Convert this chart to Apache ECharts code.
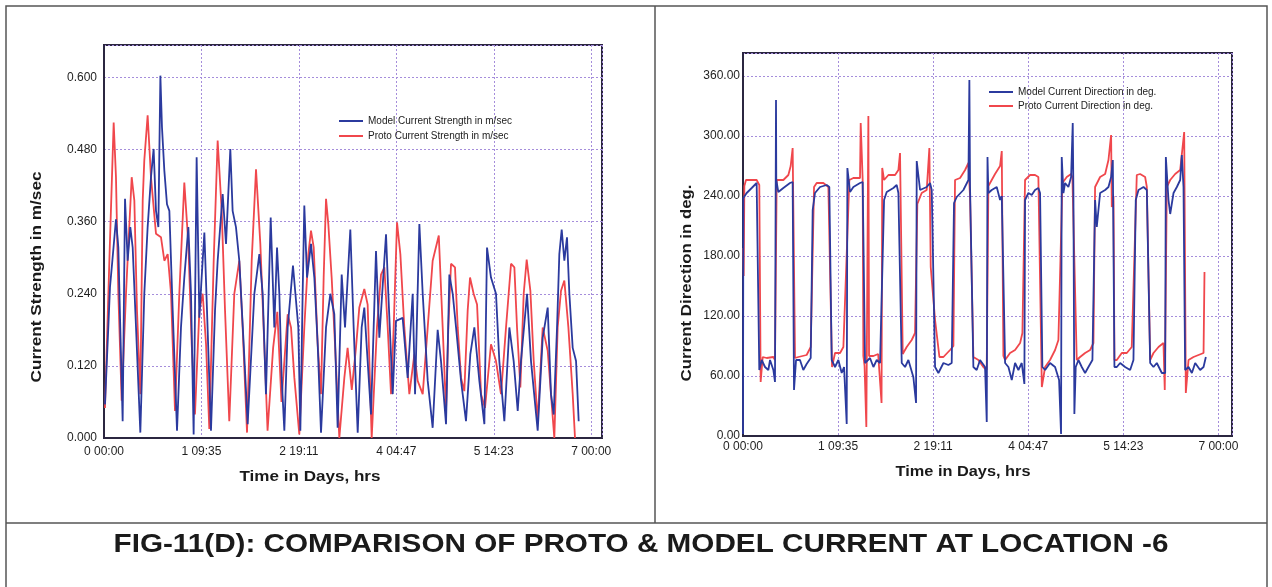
<!DOCTYPE html>
<html><head><meta charset="utf-8">
<script src="https://cdn.jsdelivr.net/npm/echarts@6/dist/echarts.min.js"></script>
<style>html,body{margin:0;padding:0;background:#fff}#c{width:1272px;height:587px}</style>
</head><body><div id="c"></div>
<script>
// ---------- DATA (time in days, value) ----------
const xTickLabels = ['0 00:00', '1 09:35', '2 19:11', '4 04:47', '5 14:23', '7 00:00'];
const strengthTickLabels = ['0.000', '0.120', '0.240', '0.360', '0.480', '0.600'];
const directionTickLabels = ['0.00', '60.00', '120.00', '180.00', '240.00', '300.00', '360.00'];

const seriesNames = {
  modelStrength: 'Model Current Strength in m/sec',
  protoStrength: 'Proto Current Strength in m/sec',
  modelDirection: 'Model Current Direction in deg.',
  protoDirection: 'Proto Current Direction in deg.'
};

const protoStrength = [[0.014,0.05],[0.077,0.295],[0.139,0.525],[0.172,0.434],[0.206,0.24],[0.254,0.062],[0.316,0.24],[0.398,0.434],[0.436,0.395],[0.474,0.212],[0.522,0.073],[0.556,0.395],[0.579,0.462],[0.627,0.537],[0.675,0.434],[0.747,0.34],[0.819,0.334],[0.867,0.295],[0.915,0.306],[0.963,0.24],[1.02,0.045],[1.082,0.24],[1.154,0.425],[1.212,0.323],[1.26,0.156],[1.307,0.039],[1.37,0.212],[1.418,0.24],[1.466,0.156],[1.513,0.015],[1.576,0.295],[1.633,0.495],[1.691,0.378],[1.739,0.212],[1.80,0.028],[1.872,0.24],[1.944,0.295],[1.992,0.184],[2.055,0.009],[2.122,0.295],[2.184,0.447],[2.246,0.323],[2.303,0.156],[2.35,0.012],[2.43,0.15],[2.49,0.21],[2.55,0.06],[2.639,0.206],[2.687,0.184],[2.735,0.1],[2.806,0.006],[2.878,0.184],[2.936,0.306],[2.974,0.345],[3.013,0.317],[3.07,0.156],[3.118,0.073],[3.156,0.267],[3.19,0.398],[3.223,0.356],[3.271,0.267],[3.319,0.156],[3.381,0.0],[3.453,0.1],[3.5,0.15],[3.56,0.08],[3.62,0.15],[3.668,0.217],[3.74,0.248],[3.788,0.222],[3.827,0.073],[3.846,0.0],[3.922,0.184],[3.98,0.272],[4.028,0.284],[4.076,0.184],[4.124,0.073],[4.162,0.184],[4.21,0.359],[4.258,0.306],[4.315,0.184],[4.387,0.073],[4.459,0.139],[4.507,0.095],[4.579,0.073],[4.651,0.184],[4.722,0.295],[4.81,0.337],[4.866,0.184],[4.914,0.045],[4.947,0.184],[4.986,0.29],[5.043,0.284],[5.082,0.184],[5.13,0.1],[5.177,0.078],[5.225,0.212],[5.259,0.267],[5.311,0.24],[5.36,0.222],[5.417,0.073],[5.474,0.05],[5.56,0.156],[5.632,0.128],[5.704,0.073],[5.776,0.184],[5.848,0.29],[5.896,0.284],[5.934,0.184],[5.982,0.084],[6.03,0.24],[6.073,0.297],[6.126,0.245],[6.174,0.128],[6.231,0.028],[6.303,0.184],[6.375,0.145],[6.422,0.073],[6.47,0.0],[6.518,0.184],[6.566,0.245],[6.614,0.262],[6.672,0.184],[6.734,0.073],[6.767,0.0]];

const modelStrength = [[0.014,0.056],[0.062,0.184],[0.086,0.251],[0.12,0.295],[0.172,0.364],[0.206,0.317],[0.234,0.184],[0.268,0.028],[0.302,0.398],[0.34,0.295],[0.378,0.351],[0.412,0.317],[0.46,0.184],[0.522,0.009],[0.579,0.24],[0.627,0.351],[0.675,0.434],[0.713,0.481],[0.747,0.378],[0.781,0.351],[0.81,0.603],[0.833,0.517],[0.867,0.445],[0.905,0.389],[0.939,0.378],[0.987,0.212],[1.049,0.012],[1.106,0.184],[1.154,0.267],[1.212,0.351],[1.25,0.24],[1.288,0.006],[1.331,0.467],[1.37,0.2],[1.403,0.267],[1.442,0.342],[1.48,0.212],[1.537,0.012],[1.595,0.212],[1.633,0.295],[1.705,0.406],[1.753,0.323],[1.815,0.481],[1.848,0.378],[1.896,0.351],[1.944,0.295],[2.007,0.156],[2.064,0.023],[2.16,0.24],[2.232,0.306],[2.28,0.24],[2.327,0.073],[2.395,0.367],[2.447,0.184],[2.486,0.317],[2.519,0.24],[2.553,0.1],[2.591,0.012],[2.639,0.184],[2.672,0.228],[2.715,0.287],[2.759,0.228],[2.792,0.184],[2.821,0.012],[2.854,0.24],[2.878,0.387],[2.917,0.267],[2.974,0.323],[3.022,0.267],[3.07,0.156],[3.118,0.009],[3.19,0.184],[3.252,0.24],[3.309,0.206],[3.357,0.017],[3.415,0.272],[3.463,0.184],[3.539,0.347],[3.587,0.184],[3.645,0.009],[3.702,0.184],[3.74,0.217],[3.788,0.128],[3.836,0.039],[3.908,0.311],[3.956,0.167],[4.052,0.339],[4.085,0.24],[4.148,0.073],[4.195,0.195],[4.291,0.2],[4.363,0.1],[4.435,0.24],[4.469,0.073],[4.531,0.356],[4.579,0.24],[4.651,0.095],[4.722,0.017],[4.794,0.18],[4.842,0.128],[4.914,0.023],[4.962,0.272],[5.01,0.24],[5.058,0.184],[5.13,0.095],[5.201,0.028],[5.263,0.139],[5.321,0.184],[5.393,0.095],[5.465,0.023],[5.503,0.317],[5.56,0.267],[5.632,0.24],[5.68,0.128],[5.752,0.028],[5.824,0.184],[5.886,0.128],[5.944,0.045],[5.991,0.128],[6.078,0.24],[6.135,0.128],[6.231,0.012],[6.303,0.167],[6.375,0.217],[6.422,0.073],[6.461,0.039],[6.509,0.184],[6.542,0.306],[6.576,0.347],[6.614,0.295],[6.652,0.334],[6.686,0.24],[6.734,0.15],[6.782,0.128],[6.82,0.028]];

const protoDirection = [[0.0,188],[0.01,160],[0.02,250],[0.044,256],[0.128,256],[0.201,256],[0.24,251],[0.26,54],[0.29,79],[0.349,78],[0.447,79],[0.471,76],[0.496,256],[0.594,256],[0.668,261],[0.702,270],[0.731,288],[0.766,78],[0.815,79],[0.937,81],[0.997,89],[1.046,249],[1.085,253],[1.183,253],[1.257,249],[1.311,69],[1.355,83],[1.429,83],[1.478,89],[1.566,256],[1.625,258],[1.723,258],[1.733,313],[1.762,256],[1.772,80],[1.79,70],[1.816,9],[1.846,320],[1.856,80],[1.92,80],[1.99,82],[2.04,33],[2.05,268],[2.077,256],[2.141,261],[2.239,261],[2.288,266],[2.312,283],[2.352,82],[2.41,89],[2.484,96],[2.533,103],[2.567,232],[2.631,243],[2.705,246],[2.744,288],[2.764,169],[2.828,116],[2.892,79],[2.951,79],[3.049,86],[3.098,90],[3.122,256],[3.196,258],[3.27,266],[3.319,273],[3.343,239],[3.392,79],[3.466,76],[3.539,69],[3.588,66],[3.613,250],[3.711,262],[3.785,270],[3.81,285],[3.834,80],[3.859,76],[3.932,83],[4.006,86],[4.08,93],[4.114,103],[4.153,256],[4.227,261],[4.3,261],[4.349,259],[4.4,49],[4.448,69],[4.521,76],[4.595,86],[4.644,96],[4.703,253],[4.767,259],[4.831,262],[4.85,259],[4.914,76],[4.963,79],[5.037,83],[5.111,86],[5.16,93],[5.184,249],[5.258,259],[5.332,262],[5.381,276],[5.42,301],[5.43,229],[5.455,240],[5.469,76],[5.504,76],[5.577,83],[5.651,83],[5.724,89],[5.798,261],[5.847,262],[5.921,259],[5.946,249],[5.995,76],[6.044,83],[6.118,89],[6.191,93],[6.21,46],[6.24,249],[6.29,256],[6.363,262],[6.437,266],[6.496,304],[6.52,43],[6.56,76],[6.633,79],[6.707,81],[6.781,83],[6.795,164]];

const modelDirection = [[0.0,2],[0.005,238],[0.015,239],[0.054,243],[0.128,248],[0.201,253],[0.226,251],[0.24,66],[0.275,76],[0.324,69],[0.373,66],[0.398,76],[0.447,66],[0.471,54],[0.486,336],[0.49,256],[0.52,244],[0.594,248],[0.692,253],[0.731,254],[0.751,46],[0.781,76],[0.839,76],[0.888,66],[0.937,72],[0.997,78],[1.026,226],[1.06,243],[1.134,249],[1.232,251],[1.271,249],[1.306,76],[1.355,69],[1.404,76],[1.453,63],[1.488,69],[1.527,12],[1.537,268],[1.576,244],[1.625,249],[1.723,253],[1.762,254],[1.797,73],[1.87,78],[1.92,69],[1.969,76],[2.018,73],[2.077,236],[2.116,244],[2.214,248],[2.263,251],[2.288,243],[2.337,73],[2.386,69],[2.435,76],[2.508,59],[2.548,33],[2.558,275],[2.607,246],[2.705,249],[2.754,253],[2.779,246],[2.828,69],[2.877,63],[2.951,73],[3.024,71],[3.073,73],[3.107,233],[3.147,239],[3.245,246],[3.319,256],[3.333,356],[3.343,249],[3.392,69],[3.441,66],[3.49,76],[3.564,69],[3.589,14],[3.6,279],[3.613,243],[3.662,246],[3.736,249],[3.785,236],[3.81,240],[3.859,73],[3.908,69],[3.957,56],[4.006,73],[4.055,66],[4.104,73],[4.143,52],[4.153,236],[4.202,243],[4.251,241],[4.3,246],[4.349,248],[4.374,243],[4.408,69],[4.448,66],[4.521,73],[4.595,69],[4.654,56],[4.683,2],[4.693,279],[4.718,243],[4.742,253],[4.791,249],[4.831,259],[4.855,313],[4.865,243],[4.879,22],[4.899,69],[4.939,76],[4.988,69],[5.037,63],[5.086,69],[5.145,76],[5.184,236],[5.209,209],[5.258,243],[5.332,246],[5.381,249],[5.42,259],[5.445,276],[5.469,69],[5.504,69],[5.553,73],[5.626,69],[5.7,66],[5.749,76],[5.783,236],[5.823,246],[5.897,249],[5.946,246],[5.995,73],[6.044,69],[6.093,73],[6.167,63],[6.216,63],[6.226,279],[6.265,236],[6.29,222],[6.339,243],[6.388,249],[6.437,256],[6.461,281],[6.486,249],[6.51,66],[6.56,69],[6.609,63],[6.658,73],[6.731,66],[6.781,69],[6.815,79]];

// ---------- STYLE ----------
const FONT = 'Liberation Sans, Arial, sans-serif';
const BLUE = '#2b3a9e', RED = '#f0474c';
const FRAME = '#2b2640', GRID = '#a58ddb';

function labelFrom(arr, step) {
  return function (v) {
    const i = Math.round(v / step);
    if (Math.abs(v - i * step) > 1e-6 * Math.max(1, step) || i < 0 || i >= arr.length) return '';
    return arr[i];
  };
}
function fitScale(text, font, target) {
  const ctx = document.createElement('canvas').getContext('2d');
  ctx.font = font;
  return target / ctx.measureText(text).width;
}
function xAxisCfg(gi, max, margin) {
  return {
    gridIndex: gi, type: 'value', min: 0, max: max, interval: 1.4,
    axisLine: { show: true, onZero: false, lineStyle: { color: FRAME, width: 2 } },
    axisTick: { show: false },
    splitLine: { show: true, lineStyle: { color: GRID, type: [2, 2], width: 1 } },
    axisLabel: { formatter: labelFrom(xTickLabels, 1.4), margin: margin, fontSize: 12, color: '#1e1e1e', fontFamily: FONT, showMaxLabel: false }
  };
}
function yAxisCfg(gi, max, step, labels, margin) {
  return {
    gridIndex: gi, type: 'value', min: 0, max: max, interval: step,
    axisLine: { show: true, lineStyle: { color: FRAME, width: 2 } },
    axisTick: { show: false },
    splitLine: { show: true, lineStyle: { color: GRID, type: [2, 2], width: 1 } },
    axisLabel: { formatter: labelFrom(labels, step), margin: margin, fontSize: 12, color: '#1e1e1e', fontFamily: FONT, showMaxLabel: false }
  };
}
function lineSeries(name, data, color, gi) {
  return {
    name: name, type: 'line', data: data, xAxisIndex: gi, yAxisIndex: gi,
    showSymbol: false, symbol: 'none', smooth: false, animation: false,
    lineStyle: { color: color, width: 1.8 }, itemStyle: { color: color }
  };
}
function txt(text, font, x, y, target, rot) {
  return {
    type: 'text', x: x, y: y, rotation: rot || 0, scaleX: fitScale(text, font, target), silent: true,
    style: { text: text, font: font, fill: '#1a1a1a', textAlign: 'center', textVerticalAlign: 'middle', align: 'center', verticalAlign: 'middle' }
  };
}

const chart = echarts.init(document.getElementById('c'), null, { renderer: 'canvas' });
const BOLD15 = 'bold 15px Liberation Sans';
const option = {
  backgroundColor: '#ffffff',
  animation: false,
  textStyle: { fontFamily: FONT },
  grid: [
    { left: 104, top: 45, width: 498, height: 393, show: true, borderColor: FRAME, borderWidth: 2, backgroundColor: 'transparent' },
    { left: 743, top: 53, width: 489, height: 383, show: true, borderColor: FRAME, borderWidth: 2, backgroundColor: 'transparent' }
  ],
  xAxis: [xAxisCfg(0, 7.155, 8), xAxisCfg(1, 7.2, 5)],
  yAxis: [yAxisCfg(0, 0.654, 0.12, strengthTickLabels, 7), yAxisCfg(1, 383, 60, directionTickLabels, 3)],
  legend: [
    { data: [seriesNames.modelStrength, seriesNames.protoStrength], orient: 'vertical', left: 334, top: 110,
      itemWidth: 24, itemHeight: 2, itemGap: 3, icon: 'rect', selectedMode: false,
      textStyle: { fontSize: 10, color: '#222', fontFamily: FONT, lineHeight: 12 } },
    { data: [seriesNames.modelDirection, seriesNames.protoDirection], orient: 'vertical', left: 984, top: 81,
      itemWidth: 24, itemHeight: 2, itemGap: 2, icon: 'rect', selectedMode: false,
      textStyle: { fontSize: 10, color: '#222', fontFamily: FONT, lineHeight: 12 } }
  ],
  series: [
    lineSeries(seriesNames.protoStrength, protoStrength, RED, 0),
    lineSeries(seriesNames.modelStrength, modelStrength, BLUE, 0),
    lineSeries(seriesNames.protoDirection, protoDirection, RED, 1),
    lineSeries(seriesNames.modelDirection, modelDirection, BLUE, 1)
  ],
  graphic: [
    { type: 'rect', silent: true, shape: { x: 6, y: 6, width: 1261, height: 620 }, style: { fill: 'none', stroke: '#555', lineWidth: 1.5 } },
    { type: 'line', silent: true, shape: { x1: 655, y1: 6, x2: 655, y2: 523 }, style: { stroke: '#555', lineWidth: 1.5 } },
    { type: 'line', silent: true, shape: { x1: 6, y1: 523, x2: 1267, y2: 523 }, style: { stroke: '#555', lineWidth: 1.5 } },
    txt('Time in Days, hrs', BOLD15, 310, 477, 141),
    txt('Time in Days, hrs', BOLD15, 963, 472, 135),
    txt('Current Strength in m/sec', BOLD15, 37, 277, 211, Math.PI / 2),
    txt('Current Direction in deg.', BOLD15, 687, 283, 197, Math.PI / 2),
    txt('FIG-11(D): COMPARISON OF PROTO & MODEL CURRENT AT LOCATION -6', 'bold 26px Liberation Sans', 641, 545, 1055)
  ]
};
chart.setOption(option);
</script></body></html>
